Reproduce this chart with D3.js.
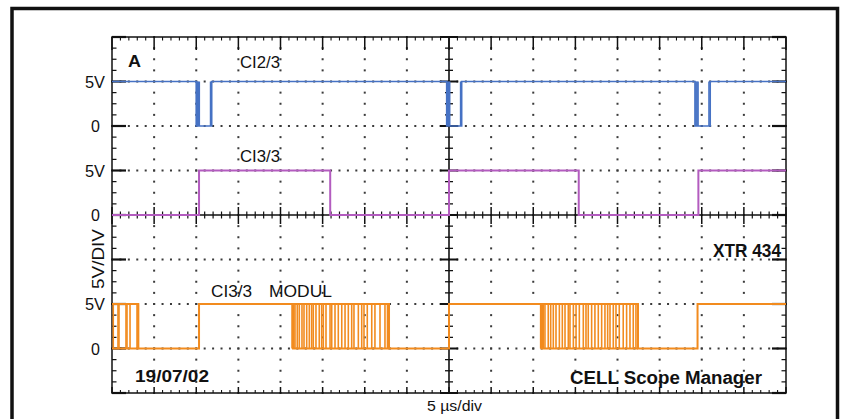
<!DOCTYPE html>
<html><head><meta charset="utf-8">
<script src="https://cdn.jsdelivr.net/npm/d3@7"></script>
<style>body{margin:0;background:#fff}svg{display:block}</style>
</head><body><svg id="c" width="846" height="419"></svg>
<script>
// ---- data ----
const timeDomain = [0, 80];          // µs : 16 div × 5 µs
const divDomain = [-4, 4];           // 8 vertical divisions
const voltsPerDiv = 5;
const majorTimes = d3.range(0, 81, 5);
const minorTimes = d3.range(0, 81, 1);
const majorDivs = d3.range(-4, 5, 1);
const minorDivs = d3.range(-16, 17, 1).map(q => q / 4);

// CI2/3 (blue), zero reference at division +2
const ci23Steps = [[0,5],[10.0,0],[11.83,5],[39.73,0],[41.5,5],[69.2,0],[71.0,5],[80,5]];
const ci23Jitter = [10.12,10.24,10.36,11.7,39.85,39.97,40.08,41.38,69.32,69.44,69.56,70.86];
// CI3/3 (purple), zero reference at division 0
const ci33Steps = [[0,0],[10.33,5],[25.9,0],[40.0,5],[55.4,0],[69.6,5],[80,5]];
// CI3/3 MODUL (orange), zero reference at division -3
const modSteps = [[0,5],[3.12,0],[10.33,5],[32.88,0],[40.0,5],[62.43,0],[69.5,5],[80,5]];
const modBursts = [[0,3.12],[21.37,32.88],[50.88,62.43]];
const modEdges = [0.15,0.71,0.83,1.66,1.78,2.14,2.97,3.12,
  21.37,21.47,21.58,21.72,21.99,22.23,22.55,22.79,23.11,23.42,23.70,23.89,24.21,24.60,24.89,25.08,25.40,
  25.88,26.08,26.47,26.86,27.27,27.66,28.05,28.45,28.72,29.24,29.64,29.91,30.30,30.83,31.21,31.81,32.40,32.70,32.88,
  50.88,50.98,51.08,51.19,51.39,51.78,52.07,52.38,52.70,53.10,53.45,53.77,54.16,54.36,54.76,55.08,55.47,55.94,56.26,
  56.53,56.93,57.32,57.72,58.12,58.51,58.83,59.11,59.50,59.82,60.21,60.68,61.08,61.48,61.87,62.19,62.43];

const traceNames = ["CI2/3", "CI3/3", "CI3/3", "MODUL"];
const traceZeroDiv = [2, 0, -3];
const traceColors = ["#4672c4", "#b35cbf", "#f28b1e"];
const levelLabels = ["5V", "0"];
const voltLabel = "5V/DIV";
const timeLabel = "5 µs/div";
const channelLetter = "A";
const dateLabel = "19/07/02";
const modelLabel = "XTR 434";
const softwareLabel = "CELL Scope Manager";

// ---- scales ----
const svg = d3.select("#c");
const x = d3.scaleLinear().domain(timeDomain).range([112, 786]);
const yd = d3.scaleLinear().domain(divDomain).range([393, 37]);
const yv = k => v => yd(traceZeroDiv[k] + v / voltsPerDiv);

// outer frame
svg.append("path")
  .attr("d", "M12,430V8.5H837.5V430")
  .attr("fill", "none").attr("stroke", "#111").attr("stroke-width", 3.5);

const g = svg.append("g");

// dotted graticule
const dots = [];
majorDivs.filter(d => d !== 0 && Math.abs(d) !== 4).forEach(d =>
  minorTimes.forEach(t => dots.push([x(t), yd(d)])));
majorTimes.filter(t => t !== 40 && t !== 0 && t !== 80).forEach(t =>
  minorDivs.forEach(q => dots.push([x(t), yd(q)])));
g.selectAll("rect.dot").data(dots).join("rect").attr("class", "dot")
  .attr("x", d => d[0] - 1).attr("y", d => d[1] - 1)
  .attr("width", 2).attr("height", 2).attr("fill", "#3a3a3a");

// plot border
g.append("rect").attr("x", 112).attr("y", 37).attr("width", 674).attr("height", 356)
  .attr("fill", "none").attr("stroke", "#111").attr("stroke-width", 1.5);

// center axes
g.append("line").attr("x1", 112).attr("x2", 786).attr("y1", yd(0)).attr("y2", yd(0))
  .attr("stroke", "#111").attr("stroke-width", 1.6);
g.append("line").attr("x1", x(40)).attr("x2", x(40)).attr("y1", 37).attr("y2", 393)
  .attr("stroke", "#111").attr("stroke-width", 1.6);

function tick(x1, y1, x2, y2, w) {
  g.append("line").attr("x1", x1).attr("y1", y1).attr("x2", x2).attr("y2", y2)
    .attr("stroke", "#111").attr("stroke-width", w || 1.2);
}
// ticks along time (horizontal) lines
minorTimes.forEach(t => {
  const major = t % 5 === 0;
  const X = x(t);
  tick(X, 37, X, 37 + (major ? 13 : 3.5), major ? 1.5 : 1.1);          // top edge
  tick(X, 393, X, 393 - (major ? 6 : 3), major ? 1.5 : 1.1);           // bottom edge
  tick(X, yd(0) - (major ? 8 : 3.5), X, yd(0) + (major ? 9 : 3.5), major ? 1.5 : 1.2); // center
});
// ticks along vertical lines
minorDivs.forEach(q => {
  const major = Number.isInteger(q);
  const Y = yd(q);
  tick(112, Y, 112 + (major ? 14 : 4.5), Y, major ? 2.2 : 1.2);        // left edge
  tick(786, Y, 786 - (major ? 14 : 4.5), Y, major ? 2.2 : 1.2);        // right edge
  tick(x(40) - (major ? 9 : 4), Y, x(40) + (major ? 9 : 4), Y, major ? 2 : 1.3); // center
});

// ---- traces ----
const stepLine = k => d3.line().curve(d3.curveStepAfter).x(d => x(d[0])).y(d => yv(k)(d[1]));

// blue CI2/3
g.append("path").datum(ci23Steps).attr("d", stepLine(0))
  .attr("fill", "none").attr("stroke", traceColors[0]).attr("stroke-width", 1.7);
g.selectAll("line.j").data(ci23Jitter).join("line").attr("class", "j")
  .attr("x1", d => x(d)).attr("x2", d => x(d))
  .attr("y1", yv(0)(0)).attr("y2", yv(0)(5))
  .attr("stroke", traceColors[0]).attr("stroke-width", 1.6);

// purple CI3/3
g.append("path").datum(ci33Steps).attr("d", stepLine(1))
  .attr("fill", "none").attr("stroke", traceColors[1]).attr("stroke-width", 2);

// orange CI3/3 MODUL
g.selectAll("line.b").data(modBursts).join("line").attr("class", "b")
  .attr("x1", d => x(d[0])).attr("x2", d => x(d[1]))
  .attr("y1", yv(2)(0)).attr("y2", yv(2)(0))
  .attr("stroke", traceColors[2]).attr("stroke-width", 2);
g.selectAll("line.e").data(modEdges).join("line").attr("class", "e")
  .attr("x1", d => x(d)).attr("x2", d => x(d))
  .attr("y1", yv(2)(0)).attr("y2", yv(2)(5))
  .attr("stroke", traceColors[2]).attr("stroke-width", 1.6);
g.append("path").datum(modSteps).attr("d", stepLine(2))
  .attr("fill", "none").attr("stroke", traceColors[2]).attr("stroke-width", 2);

// ---- texts ----
const font = "'Liberation Sans', Arial, sans-serif";
function txt(s, X, Y, opt) {
  const t = svg.append("text").attr("x", X).attr("y", Y).text(s)
    .attr("font-family", font).attr("font-size", opt.size)
    .attr("fill", "#111").attr("font-weight", opt.bold ? "bold" : "normal")
    .attr("text-anchor", opt.anchor || "start");
  if (opt.len) t.attr("textLength", opt.len).attr("lengthAdjust", "spacingAndGlyphs");
  if (opt.rot) t.attr("transform", `rotate(-90 ${X} ${Y})`);
  return t;
}
[0, 1, 2].forEach(k => {
  txt(levelLabels[0], 105, yv(k)(5) + 6, {size: 16, anchor: "end", len: 20});
  txt(levelLabels[1], 100, yv(k)(0) + 6, {size: 16, anchor: "end"});
});
txt(voltLabel, 104, 259, {size: 16, anchor: "middle", rot: true, len: 60});
txt(channelLetter, 128, 67, {size: 17, bold: true, len: 13});
txt(traceNames[0], 240, 68, {size: 16, len: 40});
txt(traceNames[1], 240, 162, {size: 16, len: 40});
txt(traceNames[2], 211, 297, {size: 16, len: 41});
txt(traceNames[3], 269, 297, {size: 16, len: 63});
txt(modelLabel, 713, 257, {size: 18, bold: true, len: 68});
txt(dateLabel, 135, 382, {size: 16, bold: true, len: 74});
txt(softwareLabel, 570, 384, {size: 17.5, bold: true, len: 192});
txt(timeLabel, 427, 411, {size: 14, len: 55});
</script>
</body></html>
